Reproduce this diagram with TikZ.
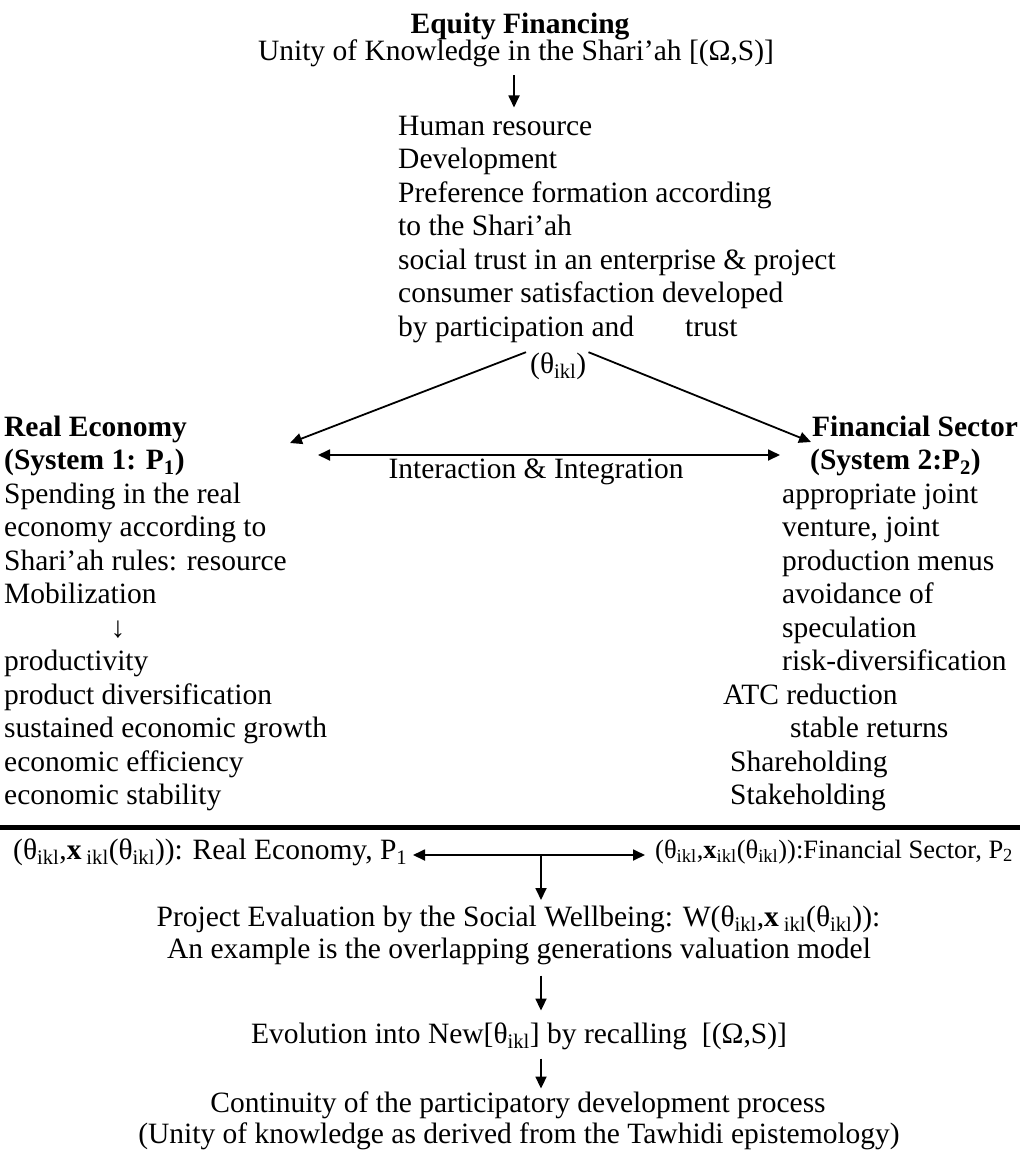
\documentclass[tikz,border=0pt]{standalone}
\usepackage{fontspec}
\setmainfont{Liberation Serif}
\usetikzlibrary{arrows.meta}
\newcommand\sbs[1]{\textsubscript{#1}}
\begin{document}
\begin{tikzpicture}[x=1pt,y=-1pt,
  txt/.style={inner sep=0pt, font=\fontsize{29.5}{33.5}\selectfont},
  smalltxt/.style={inner sep=0pt, font=\fontsize{26.5}{30}\selectfont},
  arr/.style={line width=1.8pt, -{Triangle[length=12pt,width=11pt]}},
  darr/.style={line width=1.8pt, {Triangle[length=12pt,width=11pt]}-{Triangle[length=12pt,width=11pt]}},
  rule/.style={line width=5pt}]
\useasboundingbox (0,0) rectangle (1020,1151);
\fill[white] (0,0) rectangle (1020,1151);

% heading
\node[txt, anchor=base] (eq) at (520,33) {\textbf{Equity Financing}};
\node[txt, anchor=base] (unity) at (516,60) {Unity of Knowledge in the Shari'ah [(Ω,S)]};

% human resource block
\node[txt, anchor=base west] (h1) at (398,135) {Human resource};
\node[txt, anchor=base west] (h2) at (398,168.5) {Development};
\node[txt, anchor=base west] (h3) at (398,202) {Preference formation according};
\node[txt, anchor=base west] (h4) at (398,235.5) {to the Shari'ah};
\node[txt, anchor=base west] (h5) at (398,269) {social trust in an enterprise \& project};
\node[txt, anchor=base west] (h6) at (398,302.5) {consumer satisfaction developed};
\node[txt, anchor=base west] (h7) at (398,336) {by participation and\hspace{51pt}trust};
\node[txt, anchor=base west] (th) at (530,373) {(θ\sbs{ikl})};

\draw[arr] ([xshift=-2pt,yshift=-8.5pt]unity.south) -- ([xshift=-2pt,yshift=8pt]unity.south |- h1.north);

% two systems
\coordinate (tipL) at (290,443);
\coordinate (tipR) at (811,442);
\draw[arr] ([xshift=-4pt]th.north west) -- (tipL);
\draw[arr] ([xshift=2pt]th.north east) -- (tipR);

\coordinate (iL) at (318,455);
\coordinate (iR) at (780,455);
\draw[darr] (iL) -- (iR);
\node[txt, anchor=base] (ii) at (536,478) {Interaction \& Integration};

% real economy column
\node[txt, anchor=base west] (l1) at (4,436) {\textbf{Real Economy}};
\node[txt, anchor=base west] (l2) at (4,469.5) {\textbf{(System 1: P\sbs{1})}};
\node[txt, anchor=base west] (l3) at (4,503) {Spending in the real};
\node[txt, anchor=base west] (l4) at (4,536.5) {economy according to};
\node[txt, anchor=base west] (l5) at (4,570) {Shari'ah rules: resource};
\node[txt, anchor=base west] (l6) at (4,603.5) {Mobilization};
\node[txt, anchor=base] (l7) at (118,637) {↓};
\node[txt, anchor=base west] (l8) at (4,670.5) {productivity};
\node[txt, anchor=base west] (l9) at (4,704) {product diversification};
\node[txt, anchor=base west] (l10) at (4,737.5) {sustained economic growth};
\node[txt, anchor=base west] (l11) at (4,771) {economic efficiency};
\node[txt, anchor=base west] (l12) at (4,804.5) {economic stability};

% financial sector column
\node[txt, anchor=base west] (r1) at (812,436) {\textbf{Financial Sector}};
\node[txt, anchor=base west] (r2) at (810,469.5) {\textbf{(System 2:P\sbs{2})}};
\node[txt, anchor=base west] (r3) at (782,503) {appropriate joint};
\node[txt, anchor=base west] (r4) at (782,536.5) {venture, joint};
\node[txt, anchor=base west] (r5) at (782,570) {production menus};
\node[txt, anchor=base west] (r6) at (782,603.5) {avoidance of};
\node[txt, anchor=base west] (r7) at (782,637) {speculation};
\node[txt, anchor=base west] (r8) at (782,670.5) {risk-diversification};
\node[txt, anchor=base west] (r9) at (723,704) {ATC reduction};
\node[txt, anchor=base west] (r10) at (790,737.5) {stable returns};
\node[txt, anchor=base west] (r11) at (730,771) {Shareholding};
\node[txt, anchor=base west] (r12) at (730,804.5) {Stakeholding};

% separating rule
\coordinate (ruleL) at (0,827);
\coordinate (ruleR) at (1020,827);
\draw[rule] (ruleL) -- (ruleR);

% evaluation chain
\node[txt, anchor=base west] (bl) at (13,859) {(θ\sbs{ikl},\textbf{x}\,\sbs{ikl}(θ\sbs{ikl})): Real Economy, P\sbs{1}};
\node[smalltxt, anchor=base west] (br) at (655,858) {(θ\sbs{ikl},\textbf{x}\sbs{ikl}(θ\sbs{ikl})):Financial Sector, P\sbs{2}};
\coordinate (bL) at (413,855);
\coordinate (bR) at (645,855);
\coordinate (bJ) at (541,855);
\draw[darr] (bL) -- (bR);

\node[txt, anchor=base] (pe) at (518.5,926) {Project Evaluation by the Social Wellbeing: W(θ\sbs{ikl},\textbf{x}\,\sbs{ikl}(θ\sbs{ikl})):};
\node[txt, anchor=base] (ex) at (519,958) {An example is the overlapping generations valuation model};
\node[txt, anchor=base] (ev) at (519,1043) {Evolution into New[θ\sbs{ikl}] by recalling\ \ [(Ω,S)]};
\node[txt, anchor=base] (co) at (518,1112) {Continuity of the participatory development process};
\node[txt, anchor=base] (uk) at (519,1143) {(Unity of knowledge as derived from the Tawhidi epistemology)};

\draw[arr] (bJ) -- ++(0,45);
\draw[arr] (bJ |- ex.south) ++(0,11) -- ++(0,35);
\draw[arr] (bJ |- ev.south) ++(0,9) -- ++(0,30);
\end{tikzpicture}
\end{document}
